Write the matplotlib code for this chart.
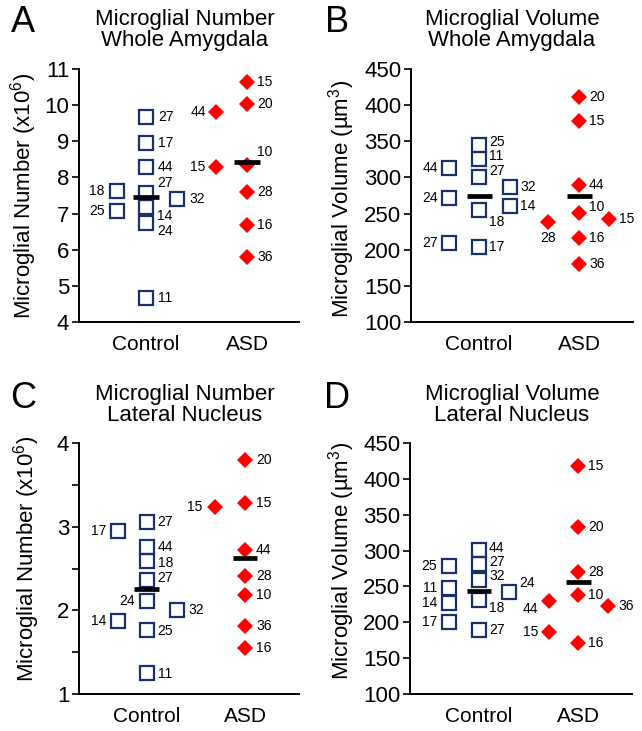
import matplotlib
matplotlib.use("Agg")
import matplotlib.pyplot as plt

plt.rcParams['font.family'] = ['Liberation Sans', 'DejaVu Sans']
plt.rcParams['mathtext.fontset'] = 'custom'
plt.rcParams['mathtext.rm'] = 'Liberation Sans'

# ---- data ----
groups = ['Control', 'ASD']

# A: microglial number, whole amygdala (x10^6)
a_ctrl_left = [7.63, 7.06]
a_ctrl_left_id = ['18', '25']
a_ctrl_mid = [9.67, 8.95, 8.30, 7.56, 7.19, 6.73, 4.66]
a_ctrl_mid_id = ['27', '17', '44', '27', '14', '24', '11']
a_ctrl_right = [7.40]
a_ctrl_right_id = ['32']
a_asd_left = [9.80, 8.30]
a_asd_left_id = ['44', '15']
a_asd_mid = [10.63, 10.04, 8.35, 7.61, 6.69, 5.81]
a_asd_mid_id = ['15', '20', '10', '28', '16', '36']
a_means = [7.47, 8.44]

# B: microglial volume, whole amygdala (um^3)
b_ctrl_left = [313.7, 271.3, 209.8]
b_ctrl_left_id = ['44', '24', '27']
b_ctrl_mid = [345.2, 325.3, 300.4, 255.1, 204.3]
b_ctrl_mid_id = ['25', '11', '27', '18', '17']
b_ctrl_right = [286.6, 260.7]
b_ctrl_right_id = ['32', '14']
b_asd_left = [238.1]
b_asd_left_id = ['28']
b_asd_mid = [411.2, 377.4, 288.9, 251.4, 215.9, 180.3]
b_asd_mid_id = ['20', '15', '44', '10', '16', '36']
b_asd_right = [242.2]
b_asd_right_id = ['15']
b_means = [274.5, 274.5]

# C: microglial number, lateral nucleus (x10^6)
c_ctrl_left = [2.95, 1.87]
c_ctrl_left_id = ['17', '14']
c_ctrl_mid = [3.06, 2.76, 2.59, 2.36, 2.11, 1.76, 1.25]
c_ctrl_mid_id = ['27', '44', '18', '27', '24', '25', '11']
c_ctrl_right = [2.00]
c_ctrl_right_id = ['32']
c_asd_left = [3.23]
c_asd_left_id = ['15']
c_asd_mid = [3.80, 3.28, 2.72, 2.41, 2.18, 1.81, 1.55]
c_asd_mid_id = ['20', '15', '44', '28', '10', '36', '16']
c_means = [2.26, 2.62]

# D: microglial volume, lateral nucleus (um^3)
d_ctrl_left = [278.4, 247.4, 227.4, 201.0]
d_ctrl_left_id = ['25', '11', '14', '17']
d_ctrl_mid = [300.7, 281.2, 259.0, 231.2, 189.4]
d_ctrl_mid_id = ['44', '27', '32', '18', '27']
d_ctrl_right = [242.7]
d_ctrl_right_id = ['24']
d_asd_left = [230.2, 187.1]
d_asd_left_id = ['44', '15']
d_asd_mid = [417.5, 333.1, 270.5, 238.1, 170.9]
d_asd_mid_id = ['15', '20', '28', '10', '16']
d_asd_right = [223.2]
d_asd_right_id = ['36']
d_means = [244.1, 256.6]

navy = '#1b2f6b'
red = '#ff0000'

W, H = 642, 731
fig = plt.figure(figsize=(W / 100, H / 100), dpi=100)


def rect(x0, x1, y_top, y_bot):
    return [x0 / W, 1 - y_bot / H, (x1 - x0) / W, (y_bot - y_top) / H]


# columns: (group index, shift, values, ids, marker kind, label offsets in px)
panels = [
    dict(letter='A', rect=rect(79, 299, 69, 322), xlim=(0.337, 2.515),
         ylim=(4, 11), yticks=range(4, 12), minor=None,
         title='Microglial Number\nWhole Amygdala', title_xy=(185, 30),
         letter_xy=(23, 22), ylab='Microglial Number (x10$\\mathregular{^6}$)', ylab_xy=(24, 196),
         means=a_means,
         cols=[
             (0, -0.29, a_ctrl_left, a_ctrl_left_id, 's', [(-12, 0)] * 2),
             (0, 0.0, a_ctrl_mid, a_ctrl_mid_id, 's',
              [(12, 0), (12, 0), (12, 0), (11, 10), (11, -9), (11, -8), (12, 0)]),
             (0, 0.31, a_ctrl_right, a_ctrl_right_id, 's', [(12, 0)]),
             (1, -0.31, a_asd_left, a_asd_left_id, 'D', [(-10, 0)] * 2),
             (1, 0.0, a_asd_mid, a_asd_mid_id, 'D',
              [(10, 0), (10, 0), (10, 13), (10, 0), (10, 0), (10, 0)]),
         ]),
    dict(letter='B', rect=rect(411, 633, 69, 322), xlim=(0.32, 2.54),
         ylim=(100, 450), yticks=range(100, 451, 50), minor=None,
         title='Microglial Volume\nWhole Amygdala', title_xy=(512, 30),
         letter_xy=(337, 22), ylab='Microglial Volume (µm$\\mathregular{^3}$)', ylab_xy=(342, 199),
         means=b_means,
         cols=[
             (0, -0.30, b_ctrl_left, b_ctrl_left_id, 's', [(-11, 0)] * 3),
             (0, 0.0, b_ctrl_mid, b_ctrl_mid_id, 's',
              [(10, 3), (10, 3), (10, 6), (10, -12), (10, 0)]),
             (0, 0.31, b_ctrl_right, b_ctrl_right_id, 's', [(10, 0)] * 2),
             (1, -0.31, b_asd_left, b_asd_left_id, 'D', [(0, -16)]),
             (1, 0.0, b_asd_mid, b_asd_mid_id, 'D',
              [(10, 0), (10, 0), (10, 0), (10, 6), (10, 0), (10, 0)]),
             (1, 0.30, b_asd_right, b_asd_right_id, 'D', [(10, 0)]),
         ]),
    dict(letter='C', rect=rect(79, 299, 443, 694), xlim=(0.311, 2.549),
         ylim=(1, 4), yticks=range(1, 5), minor=[1.5, 2.5, 3.5],
         title='Microglial Number\nLateral Nucleus', title_xy=(185, 405),
         letter_xy=(23, 398), ylab='Microglial Number (x10$\\mathregular{^6}$)', ylab_xy=(27, 559),
         means=c_means,
         cols=[
             (0, -0.29, c_ctrl_left, c_ctrl_left_id, 's', [(-12, 0)] * 2),
             (0, 0.0, c_ctrl_mid, c_ctrl_mid_id, 's',
              [(11, 0), (11, 0), (11, -2), (11, 2), (-12, 0), (11, -1), (11, -1)]),
             (0, 0.31, c_ctrl_right, c_ctrl_right_id, 's', [(11, 0)]),
             (1, -0.31, c_asd_left, c_asd_left_id, 'D', [(-12, 0)]),
             (1, 0.0, c_asd_mid, c_asd_mid_id, 'D', [(11, 0)] * 7),
         ]),
    dict(letter='D', rect=rect(410, 632, 443, 694), xlim=(0.305, 2.541),
         ylim=(100, 450), yticks=range(100, 451, 50), minor=None,
         title='Microglial Volume\nLateral Nucleus', title_xy=(512, 405),
         letter_xy=(337, 398), ylab='Microglial Volume (µm$\\mathregular{^3}$)', ylab_xy=(342, 561),
         means=d_means,
         cols=[
             (0, -0.30, d_ctrl_left, d_ctrl_left_id, 's', [(-12, 0)] * 4),
             (0, 0.0, d_ctrl_mid, d_ctrl_mid_id, 's',
              [(10, 2), (10, 2), (10, 4), (10, -8), (10, 0)]),
             (0, 0.30, d_ctrl_right, d_ctrl_right_id, 's', [(10, 9)]),
             (1, -0.30, d_asd_left, d_asd_left_id, 'D', [(-10, -8), (-10, 0)]),
             (1, 0.0, d_asd_mid, d_asd_mid_id, 'D', [(10, 0)] * 5),
             (1, 0.30, d_asd_right, d_asd_right_id, 'D', [(10, 0)]),
         ]),
]

for p in panels:
    ax = fig.add_axes(p['rect'])
    for g, shift, vals, ids, kind, offs in p['cols']:
        xs = [g + 1 + shift] * len(vals)
        if kind == 's':
            ax.plot(xs, vals, ls='none', marker='s', ms=10, mfc='none',
                    mec=navy, mew=1.6, zorder=2, clip_on=False)
        else:
            ax.plot(xs, vals, ls='none', marker='D', ms=8.5, color=red,
                    mew=0, zorder=2, clip_on=False)
        for x, v, lab, (dx, dy) in zip(xs, vals, ids, offs):
            ha = 'left' if dx > 0 else ('right' if dx < 0 else 'center')
            ax.annotate(lab, (x, v), xytext=(dx, dy), textcoords='offset pixels',
                        ha=ha, va='center', fontsize=10)
    # group means
    for g, m in enumerate(p['means']):
        ax.hlines(m, g + 1 - 0.125, g + 1 + 0.125, color='black', lw=3.4, zorder=3)

    ax.set_xlim(*p['xlim'])
    ax.set_ylim(*p['ylim'])
    ax.set_yticks(list(p['yticks']))
    if p['minor']:
        ax.set_yticks(p['minor'], minor=True)
    ax.set_xticks([1, 2], groups)
    ax.tick_params(axis='x', length=0, labelsize=15, pad=9)
    ax.tick_params(axis='y', which='both', length=5, width=1.2, labelsize=16, pad=2)
    for s in ['top', 'right']:
        ax.spines[s].set_visible(False)
    for s in ['left', 'bottom']:
        ax.spines[s].set_linewidth(1.4)

    tx, ty = p['title_xy']
    fig.text(tx / W, 1 - ty / H, p['title'], ha='center', va='center',
             fontsize=16, linespacing=1.05)
    lx, ly = p['letter_xy']
    fig.text(lx / W, 1 - ly / H, p['letter'], ha='center', va='center', fontsize=26)
    yx, yy = p['ylab_xy']
    fig.text(yx / W, 1 - yy / H, p['ylab'], ha='center', va='center',
             rotation=90, fontsize=16)

fig.savefig('out.png', dpi=100)
